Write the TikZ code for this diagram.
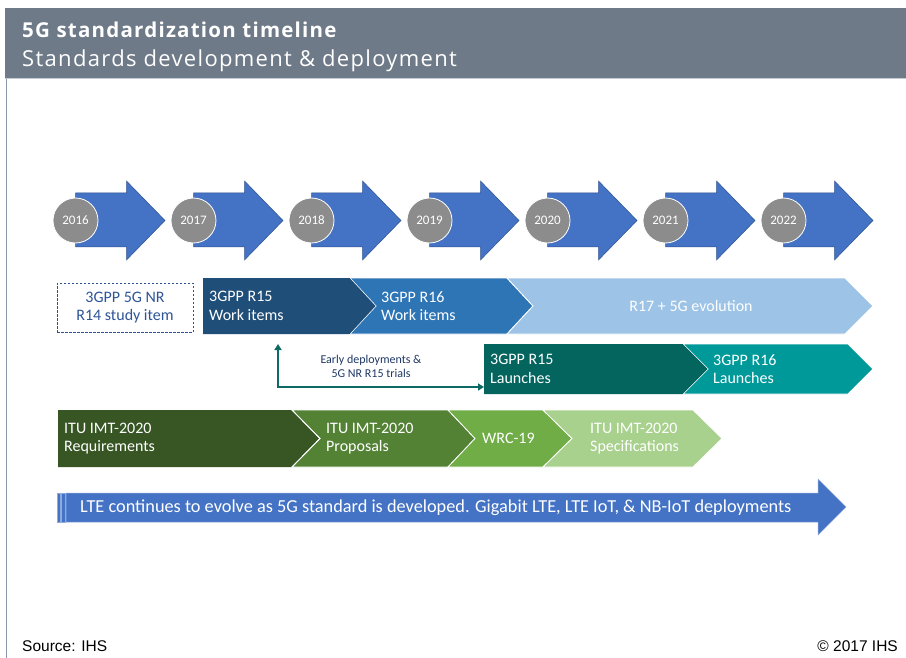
\documentclass[tikz,border=0pt]{standalone}
\usepackage{fontspec}
\setmainfont{Carlito}
\newfontfamily\hdrbold[LetterSpace=6]{Open Sans}
\newfontfamily\hdrfont[LetterSpace=6]{Open Sans}
\newfontfamily\arialfont{Liberation Sans}
\usetikzlibrary{arrows.meta}
\definecolor{hdr}{HTML}{6E7A88}
\definecolor{frameline}{HTML}{8A97A8}
\definecolor{yblue}{HTML}{4472C4}
\definecolor{yedge}{HTML}{2F528F}
\definecolor{ygray}{HTML}{8C8C8C}
\definecolor{navy}{HTML}{1F4E79}
\definecolor{midblue}{HTML}{2E75B6}
\definecolor{lightblue}{HTML}{9DC3E6}
\definecolor{dkteal}{HTML}{04655F}
\definecolor{teal}{HTML}{00999A}
\definecolor{conncol}{HTML}{0B6B64}
\definecolor{txtblue}{HTML}{2F5597}
\definecolor{txtnavy}{HTML}{1F3864}
\definecolor{g1}{HTML}{375623}
\definecolor{g2}{HTML}{548235}
\definecolor{g3}{HTML}{70AD47}
\definecolor{g4}{HTML}{A9D18E}
\definecolor{lteedge}{HTML}{8FAADC}
\tikzset{
  yarrow/.style={fill=yblue, draw=yedge, line width=0.5pt},
  yearc/.style={circle, fill=ygray, draw=white, line width=0.8pt, minimum size=45pt, inner sep=0pt, text=white, font=\fontsize{13}{15}\selectfont},
  chev/.style={draw=white, line width=0.8pt},
  btext/.style={text=white, align=left, anchor=west, inner sep=0pt, font=\fontsize{16}{18.5}\selectfont},
  dashbox/.style={draw=yedge, dash pattern=on 2.5pt off 1.5pt, line width=0.8pt, minimum width=136pt, minimum height=49pt, align=center, text=txtblue, inner sep=0pt, font=\fontsize{16}{18.5}\selectfont},
  conn/.style={draw=conncol, line width=2pt, {Triangle[length=6pt,width=7pt]}-{Triangle[length=6pt,width=7pt]}},
  foot/.style={font=\arialfont\fontsize{15.5}{18}\selectfont, text=black, inner sep=0pt}
}
\begin{document}
\begin{tikzpicture}[x=1pt,y=-1pt]
\useasboundingbox (0,0) rectangle (906,658);
\fill[white] (0,0) rectangle (906,658);
% header
\fill[hdr] (5,8) rectangle (906,78);
\draw[frameline!50, line width=1.5pt] (5,78.5) -- (906,78.5);
\draw[frameline, line width=1pt] (6,79) -- (6,658);
\node[anchor=base west, inner sep=0pt, text=white, font=\hdrbold\bfseries\fontsize{20.5}{23}\selectfont] (title) at (22,37.5) {5G standardization timeline};
\node[anchor=base west, inner sep=0pt, text=white, font=\hdrfont\fontsize{22}{25}\selectfont] (subtitle) at (22,66.5) {Standards development \& deployment};
% year arrows
\foreach \i/\yr in {0/2016,1/2017,2/2018,3/2019,4/2020,5/2021,6/2022}{
  \pgfmathsetmacro\cx{75.5+118*\i}
  \draw[yarrow] (\cx,193) -- (\cx+51,193) -- (\cx+51,181) -- (\cx+89.5,220.5) -- (\cx+51,260) -- (\cx+51,247) -- (\cx,247) -- cycle;
  \node[yearc] (y\yr) at (\cx,220.5) {\yr};
}
% 3GPP row
\node[dashbox] (r14) at (125,307.5) {3GPP 5G NR\\R14 study item};
\filldraw[midblue, chev] (350,278) -- (507,278) -- (533,306) -- (507,334) -- (350,334) -- (376,306) -- cycle;
\filldraw[lightblue, chev] (507,278) -- (845,278) -- (873,306) -- (845,334) -- (507,334) -- (533,306) -- cycle;
\fill[navy] (203,278) -- (349.6,278) -- (375.5,306) -- (349.6,334) -- (203,334) -- cycle;
\node[btext] (r15) at (209,306) {3GPP R15\\Work items};
\node[btext] (r16) at (381,306) {3GPP R16\\Work items};
\node[btext, anchor=center] (r17) at (691,306) {R17 + 5G evolution};
% launches row
\filldraw[teal, chev] (683,344) -- (848,344) -- (873,369) -- (848,394) -- (683,394) -- (708,369) -- cycle;
\fill[dkteal] (484,344) -- (682.6,344) -- (707.5,369) -- (682.6,394) -- (484,394) -- cycle;
\node[btext] (l15) at (490,369) {3GPP R15\\Launches};
\node[btext] (l16) at (713,369) {3GPP R16\\Launches};
% early deployments connector
\coordinate (etop) at (278,344);
\coordinate (ecorner) at (278,387);
\coordinate (l15w) at (484,387);
\draw[conn] (etop) -- (ecorner) -- (l15w);
\node[align=center, text=txtnavy, inner sep=0pt, font=\fontsize{12}{14}\selectfont] (early) at (371,366) {Early deployments \&\\5G NR R15 trials};
% ITU row
\fill[g1] (58,410) -- (292,410) -- (320,438.5) -- (292,467) -- (58,467) -- cycle;
\filldraw[g2, chev] (292,410) -- (448,410) -- (475,438.5) -- (448,467) -- (292,467) -- (320,438.5) -- cycle;
\filldraw[g3, chev] (448,410) -- (543,410) -- (572,438.5) -- (543,467) -- (448,467) -- (475,438.5) -- cycle;
\filldraw[g4, chev] (543,410) -- (693,410) -- (722,438.5) -- (693,467) -- (543,467) -- (572,438.5) -- cycle;
\draw[white, line width=0.8pt] (292,410) -- (320,438.5) -- (292,467);
\node[btext] (req) at (64,438.5) {ITU IMT-2020\\Requirements};
\node[btext] (prop) at (326,438.5) {ITU IMT-2020\\Proposals};
\node[btext] (wrc) at (482,438.5) {WRC-19};
\node[btext] (spec) at (590,438.5) {ITU IMT-2020\\Specifications};
% LTE arrow
\filldraw[fill=yblue, draw=lteedge, line width=0.5pt] (66,493) -- (818,493) -- (818,479) -- (846,507) -- (818,535) -- (818,522) -- (66,522) -- cycle;
\filldraw[fill=yblue, draw=lteedge, line width=0.5pt] (57,493) rectangle (60.5,522);
\filldraw[fill=yblue, draw=lteedge, line width=0.5pt] (61.5,493) rectangle (65,522);
\node[btext, font=\fontsize{18.3}{20}\selectfont] (lte) at (80,507.5) {LTE continues to evolve as 5G standard is developed. Gigabit LTE, LTE IoT, \& NB-IoT deployments};
% footer
\node[foot, anchor=base west] (src) at (22,651) {Source: IHS};
\node[foot, anchor=base east] (copy) at (898,651) {\textcopyright{} 2017 IHS};
\end{tikzpicture}
\end{document}
